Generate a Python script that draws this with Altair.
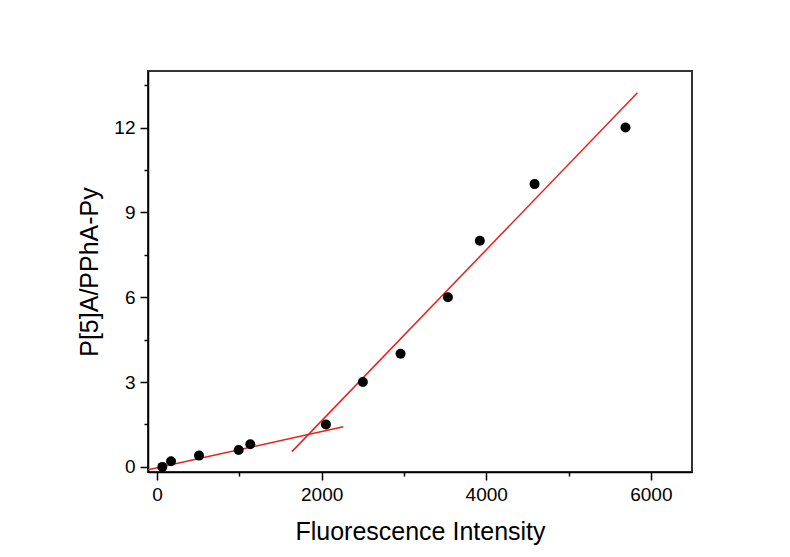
import altair as alt
import pandas as pd

# scatter data
fluor = [64, 170, 510, 992, 1133, 2052, 2501, 2959, 3534, 3922, 4587, 5692]
ratio = [0.0, 0.2, 0.4, 0.6, 0.8, 1.5, 3.0, 4.0, 6.0, 8.0, 10.0, 12.0]

# fitted line endpoints
fit1_x = [-110, 2263]
fit1_y = [-0.10, 1.42]
fit2_x = [1639, 5837]
fit2_y = [0.54, 13.23]

x_major = [0, 2000, 4000, 6000]
x_minor = [1000, 3000, 5000]
y_major = [0, 3, 6, 9, 12]
y_minor = [1.5, 4.5, 7.5, 10.5, 13.5]

pts = pd.DataFrame({"x": fluor, "y": ratio})
fits = pd.DataFrame({
    "x": fit1_x + fit2_x,
    "y": fit1_y + fit2_y,
    "seg": ["a", "a", "b", "b"],
})

FONT = "Liberation Sans"
xscale = alt.Scale(domain=[-110, 6500], nice=False, zero=False)
yscale = alt.Scale(domain=[-0.18, 14], nice=False, zero=False)

common_axis = dict(
    grid=False, domainColor="black", domainWidth=1.5, tickColor="black",
    tickWidth=1.5, labelFont=FONT, labelFontSize=19, labelColor="black",
    titleFont=FONT, titleFontSize=25, titleColor="black", titleFontWeight="normal",
)

points = alt.Chart(pts).mark_circle(size=100, color="black", opacity=1).encode(
    x=alt.X("x:Q", scale=xscale, axis=alt.Axis(
        values=x_major, tickSize=8, labelPadding=5, title="Fluorescence Intensity",
        titlePadding=15, orient="bottom", format="d", **common_axis)),
    y=alt.Y("y:Q", scale=yscale, axis=alt.Axis(
        values=y_major, tickSize=8, labelPadding=5, title="P[5]A/PPhA-Py",
        titlePadding=11, orient="left", format="d", **common_axis)),
)

lines = alt.Chart(fits).mark_line(color="#e8201c", strokeWidth=1.5, clip=True).encode(
    x=alt.X("x:Q", scale=xscale, axis=alt.Axis(
        values=x_minor, tickSize=4, labels=False, title=None, domain=False,
        orient="bottom", grid=False, tickColor="black", tickWidth=1.5)),
    y=alt.Y("y:Q", scale=yscale, axis=alt.Axis(
        values=y_minor, tickSize=4, labels=False, title=None, domain=False,
        orient="left", grid=False, tickColor="black", tickWidth=1.5)),
    detail="seg:N",
)

chart = alt.layer(lines, points).resolve_axis(x="independent", y="independent").properties(
    width=544, height=401,
    autosize=alt.AutoSizeParams(type="none"),
    padding={"left": 148, "top": 71, "right": 98, "bottom": 85},
    background="white",
).configure_view(stroke="#333333", strokeWidth=2)

chart.save("out.html", embed_options={"renderer": "svg", "actions": False})
